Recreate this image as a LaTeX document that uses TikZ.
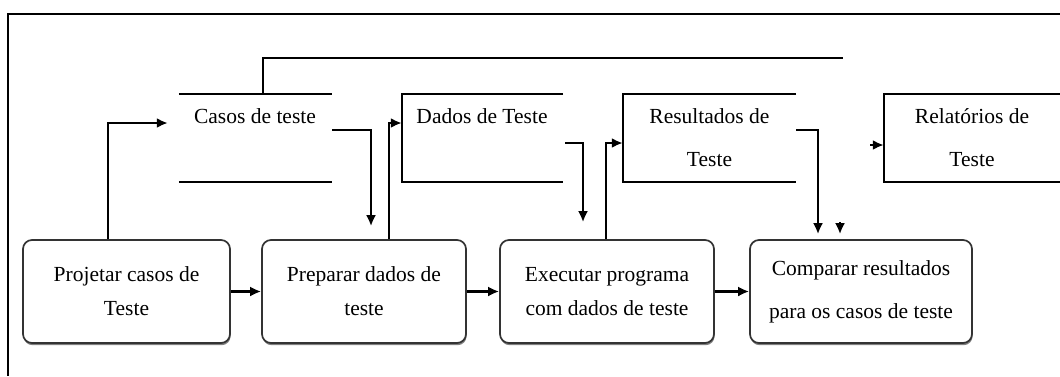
\documentclass[tikz,border=0pt]{standalone}
\usepackage{fontspec}
\setmainfont{Liberation Serif}
\usetikzlibrary{arrows.meta,shadows}
\begin{document}
\begin{tikzpicture}[x=1pt,y=-1pt,
  txt/.style={font=\fontsize{21.5}{25}\selectfont, align=center, inner sep=0pt},
  proc/.style={draw=black!80, line width=1.7pt, rounded corners=9pt, fill=white,
    minimum height=103pt, txt,
    drop shadow={shadow xshift=0.6pt, shadow yshift=-2.2pt, fill=black!50, opacity=1}},
  store/.style={minimum height=88pt, inner sep=0pt, txt},
  ln/.style={line width=2.2pt},
  arr/.style={ln, -{Latex[length=11pt,width=10pt]}},
]
\useasboundingbox (0,0) rectangle (1060,376);

% frame
\coordinate (F1) at (1060,14);
\coordinate (F2) at (8,14);
\coordinate (F3) at (8,376);
\draw[line width=1.8pt] (F1) -- (F2) -- (F3);

% processes
\node[proc, minimum width=207pt] (P1) at (126.5,291.5) {Projetar casos de\\[9pt]Teste};
\node[proc, minimum width=204pt] (P2) at (364,291.5) {Preparar dados de\\[9pt]teste};
\node[proc, minimum width=214pt] (P3) at (607,291.5) {Executar programa\\[9pt]com dados de teste};
\node[proc, minimum width=222pt] (P4) at (861,291.5) {Comparar resultados\\[18pt]para os casos de teste};

% data stores
\node[store, minimum width=153pt] (S1) at (255.5,138) {};
\node[txt] (S1t) at (255,116) {Casos de teste};
\node[store, minimum width=161pt] (S2) at (482.5,138) {};
\node[txt] (S2t) at (482,116) {Dados de Teste};
\node[store, minimum width=173pt] (S3) at (709.5,138) {Resultados de\\[18pt]Teste};
\node[store, minimum width=176pt] (S4) at (972,138) {Relatórios de\\[18pt]Teste};

\draw[ln] (S1.north west) -- (S1.north east) (S1.south west) -- (S1.south east);
\draw[ln] (S2.north east) -- (S2.north west) -- (S2.south west) -- (S2.south east);
\draw[ln] (S3.north east) -- (S3.north west) -- (S3.south west) -- (S3.south east);
\draw[ln] (S4.north east) -- (S4.north west) -- (S4.south west) -- (S4.south east);

% connectors
\draw[arr, shorten >=11pt] ([xshift=-18.5pt]P1.north) |- ([yshift=15pt]S1.west);
\draw[arr, shorten >=13pt] ([yshift=8pt]S1.east) -| ([xshift=7pt]P2.north);
\draw[arr] ([xshift=25pt]P2.north) |- ([yshift=15pt]S2.west);
\draw[arr, shorten >=17pt] ([xshift=2pt,yshift=-5pt]S2.east) -| ([xshift=-24pt]P3.north);
\draw[arr] ([xshift=-1pt]P3.north) |- ([yshift=-5pt]S3.west);
\draw[arr, shorten >=5pt] ([yshift=8pt]S3.east) -| ([xshift=-43pt]P4.north);
\coordinate (a7) at (840,222);
\draw[arr, shorten >=5pt] (a7) -- ([xshift=-21pt]P4.north);
\coordinate (t1) at (843,58);
\draw[ln] ([xshift=7.5pt]S1.north) |- (t1);
\coordinate (a8) at (870,145);
\draw[arr] (a8) -- ([yshift=-7pt]S4.west);

\draw[arr] (P1) -- (P2);
\draw[arr] (P2) -- (P3);
\draw[arr] (P3) -- (P4);
\end{tikzpicture}
\end{document}
